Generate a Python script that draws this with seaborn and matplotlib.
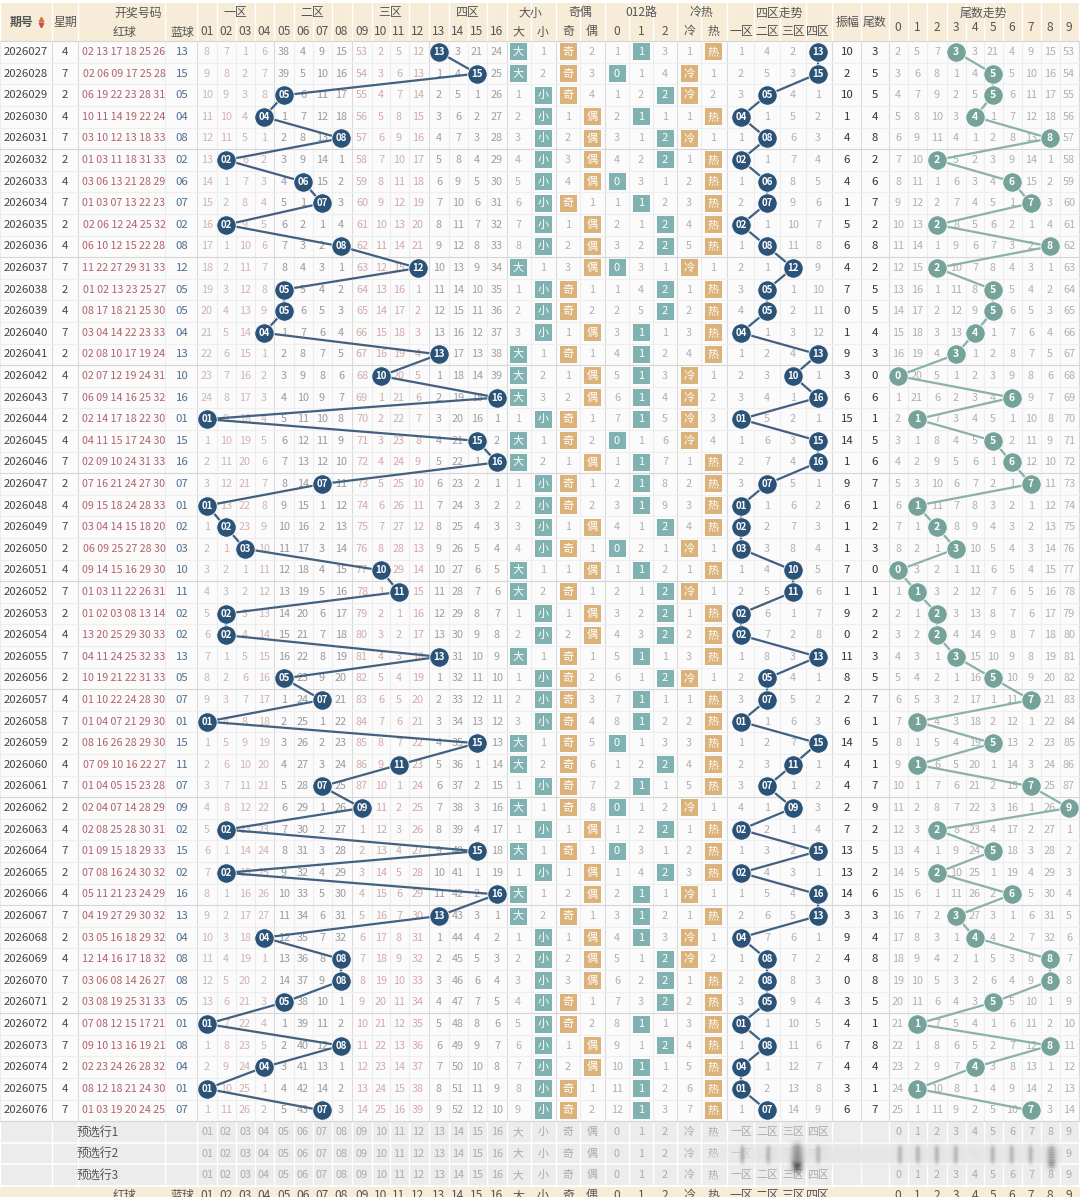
import numpy as np
import pandas as pd
import matplotlib
matplotlib.use("Agg")
import matplotlib.pyplot as plt
import seaborn as sns
from matplotlib.patches import Rectangle

sns.set_theme(style="white")
plt.rcParams['font.family'] = ['Noto Sans CJK SC', 'DejaVu Sans']

# ---------------- data ----------------
periods = [str(p) for p in range(2026027, 2026077)]
weekdays = [4, 7, 2, 4, 7, 2, 4, 7, 2, 4, 7, 2, 4, 7, 2, 4, 7, 2, 4, 7,
            2, 4, 7, 2, 4, 7, 2, 4, 7, 2, 4, 7, 2, 4, 7, 2, 4, 7, 2, 4,
            7, 2, 4, 7, 2, 4, 7, 2, 4, 7]
red_balls = [
    "02 13 17 18 25 26", "02 06 09 17 25 28", "06 19 22 23 28 31", "10 11 14 19 22 24",
    "03 10 12 13 18 33", "01 03 11 18 31 33", "03 06 13 21 28 29", "01 03 07 13 22 23",
    "02 06 12 24 25 32", "06 10 12 15 22 28", "11 22 27 29 31 33", "01 02 13 23 25 27",
    "08 17 18 21 25 30", "03 04 14 22 23 33", "02 08 10 17 19 24", "02 07 12 19 24 31",
    "06 09 14 16 25 32", "02 14 17 18 22 30", "04 11 15 17 24 30", "02 09 10 24 31 33",
    "07 16 21 24 27 30", "09 15 18 24 28 33", "03 04 14 15 18 20", "06 09 25 27 28 30",
    "09 14 15 16 29 30", "01 03 11 22 26 31", "01 02 03 08 13 14", "13 20 25 29 30 33",
    "04 11 24 25 32 33", "10 19 21 22 31 33", "01 10 22 24 28 30", "01 04 07 21 29 30",
    "08 16 26 28 29 30", "07 09 10 16 22 27", "01 04 05 15 23 28", "02 04 07 14 28 29",
    "02 08 25 28 30 31", "01 09 15 18 29 33", "07 08 16 24 30 32", "05 11 21 23 24 29",
    "04 19 27 29 30 32", "03 05 16 18 29 32", "12 14 16 17 18 32", "03 06 08 14 26 27",
    "03 08 19 25 31 33", "07 08 12 15 17 21", "09 10 13 16 19 21", "02 23 24 26 28 32",
    "08 12 18 21 24 30", "01 03 19 20 24 25"]
blue_balls = [13, 15, 5, 4, 8, 2, 6, 7, 2, 8, 12, 5, 5, 4, 13, 10, 16, 1, 15, 16,
              7, 1, 2, 3, 10, 11, 2, 2, 13, 5, 7, 1, 15, 11, 7, 9, 2, 15, 2, 16,
              13, 4, 8, 8, 5, 1, 8, 4, 1, 7]
hot_cold = ['热', '冷', '冷', '热', '冷', '热', '热', '热', '热', '热',
            '冷', '热', '热', '热', '热', '冷', '冷', '冷', '冷', '热',
            '热', '热', '热', '冷', '热', '冷', '热', '热', '热', '冷',
            '热', '热', '热', '热', '热', '冷', '热', '热', '热', '冷',
            '热', '冷', '冷', '热', '热', '热', '热', '热', '热', '热']
prev_blue = 3
# omission values shown in the first row (0 = hit)
blue_miss_first = [8, 7, 1, 6, 38, 4, 9, 15, 53, 2, 5, 12, 0, 3, 21, 24]
tail_miss_first = [2, 5, 7, 0, 3, 21, 4, 9, 15, 53]
zone_miss_first = [1, 4, 2, 0]
size_miss_first = [0, 1]
parity_miss_first = [0, 2]
mod3_miss_first = [1, 0, 3]
hotcold_miss_first = [1, 0]

n = len(blue_balls)


def omission(hit_idx, first):
    arr = np.zeros((len(hit_idx), len(first)), dtype=int)
    arr[0] = first
    for i in range(1, len(hit_idx)):
        arr[i] = arr[i - 1] + 1
        arr[i][hit_idx[i]] = 0
    return arr


blue_hit = [b - 1 for b in blue_balls]
size_hit = [0 if b >= 9 else 1 for b in blue_balls]
par_hit = [0 if b % 2 == 1 else 1 for b in blue_balls]
mod_hit = [b % 3 for b in blue_balls]
hc_hit = [0 if h == '冷' else 1 for h in hot_cold]
zone_hit = [(b - 1) // 4 for b in blue_balls]
tail_hit = [b % 10 for b in blue_balls]
amps = [abs(b - a) for a, b in zip([prev_blue] + blue_balls[:-1], blue_balls)]

blue_om = omission(blue_hit, blue_miss_first)
size_om = omission(size_hit, size_miss_first)
par_om = omission(par_hit, parity_miss_first)
mod_om = omission(mod_hit, mod3_miss_first)
hc_om = omission(hc_hit, hotcold_miss_first)
zone_om = omission(zone_hit, zone_miss_first)
tail_om = omission(tail_hit, tail_miss_first)

# ---------------- layout ----------------
W, H = 1080, 1197
PITCH = 21.6
Y0 = 52.0
def py(pix):
    return (pix - Y0) / PITCH

num_x = [207, 226, 245, 264, 284, 303, 322, 341, 362, 381, 399, 418, 439, 458, 477, 497]
cat_x = [518, 543, 568, 592, 617, 641, 665, 689, 713]
zone_x = [741, 767, 793, 818]
amp_x, tail_col_x = 847, 875
tail_x = [898, 917, 937, 956, 975, 993, 1012, 1031, 1050, 1069]
period_x, week_x, red_x, blue_x = 26, 65, 124, 182

fig = plt.figure(figsize=(W / 100, H / 100), dpi=100)
ax = fig.add_axes([0, 0, 1, 1])
fig.patch.set_facecolor('white')

bounds = [0, 52, 78, 165, 197]
for a, b in zip(num_x[:-1], num_x[1:]):
    bounds.append((a + b) / 2)
bounds += [507]
for a, b in zip(cat_x[:-1], cat_x[1:]):
    bounds.append((a + b) / 2)
bounds += [727]
for a, b in zip(zone_x[:-1], zone_x[1:]):
    bounds.append((a + b) / 2)
bounds += [832, 861, 889]
for a, b in zip(tail_x[:-1], tail_x[1:]):
    bounds.append((a + b) / 2)
bounds += [1079]
major = {52, 78, 197, 507, 727, 832, 861, 889, 1079,
         (num_x[3] + num_x[4]) / 2, (num_x[7] + num_x[8]) / 2, (num_x[11] + num_x[12]) / 2,
         (cat_x[1] + cat_x[2]) / 2, (cat_x[3] + cat_x[4]) / 2, (cat_x[6] + cat_x[7]) / 2}

top_hdr = py(3)
data_top = -0.5
data_bot = n - 0.5

ax.add_patch(Rectangle((0, top_hdr), W, data_top - top_hdr, facecolor='#f6ecd8', edgecolor='none', zorder=0))
ax.add_patch(Rectangle((0, data_top), W, data_bot - data_top, facecolor='#fbfbfb', edgecolor='none', zorder=0))
ax.add_patch(Rectangle((0, data_bot), W, 3, facecolor='#ececec', edgecolor='none', zorder=0))
ax.add_patch(Rectangle((0, data_bot + 3), W, 5, facecolor='#f6ecd8', edgecolor='none', zorder=0))

for x in bounds:
    c = '#dadada' if x in major else '#ededed'
    ax.plot([x, x], [data_top, data_bot], color=c, lw=0.8, zorder=1)
    ax.plot([x, x], [data_bot, data_bot + 3], color='#ffffff', lw=1.0, zorder=1)
    ax.plot([x, x], [top_hdr, data_top], color='#ffffff', lw=1.0, zorder=1)
for i in range(n + 1):
    yy = i - 0.5
    c = '#d6d6d6' if i % 5 == 0 else '#eeeeee'
    ax.plot([0, W], [yy, yy], color=c, lw=0.8, zorder=1)
for k in range(1, 4):
    ax.plot([0, W], [data_bot + k, data_bot + k], color='#ffffff', lw=1.2, zorder=1)

# ---------------- header ----------------
hc = '#555555'
hy1, hy2 = py(13), py(32)
hmid = py(22)
fs_h = 8.6
ax.text(period_x - 4, hmid, '期号', ha='center', va='center', fontsize=fs_h, color=hc, fontweight='bold')
ax.plot([41], [hmid - 0.12], marker='^', ms=3.2, color='#e0703a', ls='none')
ax.plot([41], [hmid + 0.14], marker='v', ms=3.2, color='#d04a4a', ls='none')
ax.text(week_x, hmid, '星期', ha='center', va='center', fontsize=fs_h, color=hc)
ax.text(138, hy1, '开奖号码', ha='center', va='center', fontsize=fs_h, color=hc)
ax.text(red_x, hy2, '红球', ha='center', va='center', fontsize=fs_h, color=hc)
ax.text(blue_x, hy2, '蓝球', ha='center', va='center', fontsize=fs_h, color=hc)
for zi, name in enumerate(['一区', '二区', '三区', '四区']):
    ax.text(np.mean(num_x[zi * 4:zi * 4 + 4]), hy1, name, ha='center', va='center', fontsize=fs_h, color=hc)
for k, x in enumerate(num_x):
    ax.text(x, hy2, f'{k + 1:02d}', ha='center', va='center', fontsize=fs_h, color=hc)
for name, xs in [('大小', cat_x[0:2]), ('奇偶', cat_x[2:4]), ('012路', cat_x[4:7]), ('冷热', cat_x[7:9])]:
    ax.text(np.mean(xs), hy1, name, ha='center', va='center', fontsize=fs_h, color=hc)
cat_labels = ['大', '小', '奇', '偶', '0', '1', '2', '冷', '热']
for x, lab in zip(cat_x, cat_labels):
    ax.text(x, hy2, lab, ha='center', va='center', fontsize=fs_h, color=hc)
ax.text(np.mean(zone_x), hy1, '四区走势', ha='center', va='center', fontsize=fs_h, color=hc)
zone_labels = ['一区', '二区', '三区', '四区']
for x, lab in zip(zone_x, zone_labels):
    ax.text(x, hy2, lab, ha='center', va='center', fontsize=fs_h, color=hc)
ax.text(amp_x, hmid, '振幅', ha='center', va='center', fontsize=fs_h, color=hc)
ax.text(tail_col_x, hmid, '尾数', ha='center', va='center', fontsize=fs_h, color=hc)
ax.text(np.mean(tail_x), hy1, '尾数走势', ha='center', va='center', fontsize=fs_h, color=hc)
for k, x in enumerate(tail_x):
    ax.text(x, py(28), str(k), ha='center', va='center', fontsize=fs_h, color=hc)

# ---------------- body ----------------
fs = 8.2
zone_col = ['#d2b3b3', '#9a9a9a', '#d3aaaa', '#9f9f9f']
teal, tan = '#7fb2b0', '#dbb27a'
for i in range(n):
    ax.text(period_x, i, periods[i], ha='center', va='center', fontsize=fs, color='#454545')
    ax.text(week_x, i, str(weekdays[i]), ha='center', va='center', fontsize=fs, color='#454545')
    ax.text(red_x, i, red_balls[i], ha='center', va='center', fontsize=7.7, color='#b0626c')
    ax.text(blue_x, i, f'{blue_balls[i]:02d}', ha='center', va='center', fontsize=fs, color='#4f6f8f')
    for k, x in enumerate(num_x):
        if blue_om[i][k] != 0:
            ax.text(x, i, str(blue_om[i][k]), ha='center', va='center', fontsize=7.8, color=zone_col[k // 4])
    groups = [(size_om, cat_x[0:2], ['大', '小'], teal),
              (par_om, cat_x[2:4], ['奇', '偶'], tan),
              (mod_om, cat_x[4:7], ['0', '1', '2'], teal),
              (hc_om, cat_x[7:9], ['冷', '热'], tan)]
    for om, xs, labs, col in groups:
        for k, x in enumerate(xs):
            if om[i][k] == 0:
                hw = 8.5
                hh = 8.5 / PITCH
                ax.add_patch(Rectangle((x - hw, i - hh), 2 * hw, 2 * hh, facecolor=col, edgecolor='none', zorder=2))
                ax.text(x, i, labs[k], ha='center', va='center', fontsize=8, color='white', zorder=3)
            else:
                ax.text(x, i, str(om[i][k]), ha='center', va='center', fontsize=7.8, color='#b0b0b0')
    for k, x in enumerate(zone_x):
        if zone_om[i][k] != 0:
            ax.text(x, i, str(zone_om[i][k]), ha='center', va='center', fontsize=7.8, color='#b0b0b0')
    ax.text(amp_x, i, str(amps[i]), ha='center', va='center', fontsize=fs, color='#333333')
    ax.text(tail_col_x, i, str(tail_hit[i]), ha='center', va='center', fontsize=fs, color='#333333')
    for k, x in enumerate(tail_x):
        if tail_om[i][k] != 0:
            ax.text(x, i, str(tail_om[i][k]), ha='center', va='center', fontsize=7.8, color='#b0b0b0')

# trend lines with seaborn
rows = np.arange(n)
df_blue = pd.DataFrame({'x': [num_x[b - 1] for b in blue_balls], 'y': rows})
df_zone = pd.DataFrame({'x': [zone_x[z] for z in zone_hit], 'y': rows})
df_tail = pd.DataFrame({'x': [tail_x[t] for t in tail_hit], 'y': rows})
navy, navy_line = '#2b5277', '#42607f'
tealc, teal_line = '#75a39a', '#8bb1a9'
for df, lc, mc in [(df_blue, navy_line, navy), (df_zone, navy_line, navy), (df_tail, teal_line, tealc)]:
    sns.lineplot(data=df, x='x', y='y', sort=False, estimator=None, color=lc, lw=1.6, ax=ax, legend=False, zorder=4)
    sns.scatterplot(data=df, x='x', y='y', s=195, color=mc, edgecolor='white', linewidth=0.6, ax=ax, legend=False, zorder=5)
for i in range(n):
    lab = f'{blue_balls[i]:02d}'
    ax.text(df_blue.x[i], i, lab, ha='center', va='center', fontsize=7, color='white', fontweight='bold', zorder=6)
    ax.text(df_zone.x[i], i, lab, ha='center', va='center', fontsize=7, color='white', fontweight='bold', zorder=6)
    ax.text(df_tail.x[i], i, str(tail_hit[i]), ha='center', va='center', fontsize=7.5, color='white', fontweight='bold', zorder=6)

# ---------------- footer ----------------
fc = '#ababab'
for r in range(3):
    yy = n + r
    ax.text(98, yy, f'预选行{r + 1}', ha='center', va='center', fontsize=fs_h, color='#555555')
    for k, x in enumerate(num_x):
        ax.text(x, yy, f'{k + 1:02d}', ha='center', va='center', fontsize=7.8, color=fc)
    for x, lab in zip(cat_x, cat_labels):
        ax.text(x, yy, lab, ha='center', va='center', fontsize=7.8, color=fc)
    for x, lab in zip(zone_x, zone_labels):
        ax.text(x, yy, lab, ha='center', va='center', fontsize=7.8, color=fc)
    for k, x in enumerate(tail_x):
        ax.text(x, yy, str(k), ha='center', va='center', fontsize=7.8, color=fc)
yy = n + 3 - 0.05
ax.text(red_x, yy, '红球', ha='center', va='center', fontsize=fs_h, color=hc)
ax.text(blue_x, yy, '蓝球', ha='center', va='center', fontsize=fs_h, color=hc)
for k, x in enumerate(num_x):
    ax.text(x, yy, f'{k + 1:02d}', ha='center', va='center', fontsize=fs_h, color=hc)
for x, lab in zip(cat_x, cat_labels):
    ax.text(x, yy, lab, ha='center', va='center', fontsize=fs_h, color=hc)
for x, lab in zip(zone_x, zone_labels):
    ax.text(x, yy, lab, ha='center', va='center', fontsize=fs_h, color=hc)
for k, x in enumerate(tail_x):
    ax.text(x, yy, str(k), ha='center', va='center', fontsize=fs_h, color=hc)

# blurred overlay smudge seen in the footer of the reference
gx = np.linspace(700, 1062, 362)
gy = np.linspace(1138, 1180, 84)
GX, GY = np.meshgrid(gx, gy)
ramp = np.clip((GX - 700) / 60, 0, 1)
haze = np.exp(-((GY - 1155) / 10.0) ** 4) * ramp * 0.9
streak_x = [742, 768, 818, 900, 918, 937, 956, 993, 1012, 1031]
streaks = sum(np.exp(-((GX - sx) / 2.5) ** 2) for sx in streak_x) * np.exp(-((GY - 1155) / 9.0) ** 4) * 0.25
bar = np.exp(-((GX - 797) / 5.0) ** 2) * np.exp(-((GY - 1158) / 14.0) ** 4) * (0.45 + 0.5 * np.clip((GY - 1145) / 28, 0, 1))
ticks = np.exp(-((GX - 1052) / 4.0) ** 2) * np.exp(-((GY - 1158) / 11.0) ** 4) * 0.55 * (0.6 + 0.4 * np.cos((GY - 1148) / 5.0 * 2 * np.pi) ** 2)
dark = np.clip(streaks + bar + ticks, 0, 0.95)
# composite: haze (light gray) then dark strokes
img = np.zeros(GX.shape + (4,))
a_tot = np.clip(haze + dark, 0, 0.97)
col = (haze * 0.9 + dark * 0.12) / np.maximum(haze + dark, 1e-6)
img[..., 0] = col
img[..., 1] = col
img[..., 2] = col
img[..., 3] = a_tot
ax.imshow(img, extent=(700, 1062, py(1180), py(1138)), aspect='auto', zorder=7, interpolation='bilinear')

ax.set_xlim(0, W)
ax.set_ylim(py(H), py(0))
ax.axis('off')
fig.savefig('out.png', dpi=100, facecolor='white')
